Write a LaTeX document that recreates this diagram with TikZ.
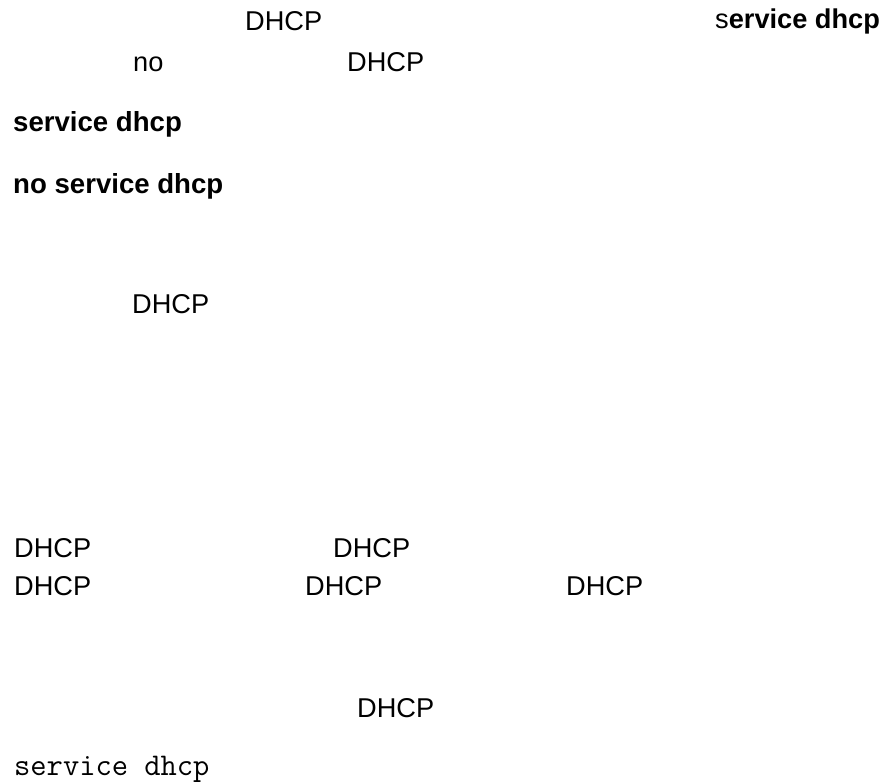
\documentclass[tikz,border=0pt]{standalone}
\usepackage{fontspec}
\setmainfont{Liberation Sans}
\usetikzlibrary{positioning}

\begin{document}
\begin{tikzpicture}[
  x=1pt, y=-1pt,
  txt/.style={inner sep=0pt, anchor=base west, font=\fontsize{27.2}{32}\selectfont},
  btxt/.style={txt, font=\fontsize{27.6}{32}\selectfont\bfseries},
  mtxt/.style={txt, font=\fontsize{31.6}{36}\ttfamily}
]
\useasboundingbox (0,0) rectangle (890,781);
% Intro
\node[txt] (dhcpA) at (245,31) {DHCP};
\node[txt] (svcA) at (715,29) {s\textbf{ervice dhcp}};
\node[txt] (noA) at (133,72) {no};
\node[txt] (dhcpB) at (347,72) {DHCP};
% Commands
\node[btxt] (svcB) at (13,131) {service dhcp};
\node[btxt] (nosvc) at (13,193) {no service dhcp};
% Default
\node[txt] (dhcpC) at (132,313) {DHCP};
% Usage
\node[txt] (dhcpD) at (14,557) {DHCP};
\node[txt] (dhcpE) at (333,557) {DHCP};
\node[txt] (dhcpF) at (14,595) {DHCP};
\node[txt] (dhcpG) at (305,595) {DHCP};
\node[txt] (dhcpH) at (566,595) {DHCP};
% Example
\node[txt] (dhcpI) at (357,717) {DHCP};
\node[mtxt] (svcC) at (14,775) {service dhcp};
\end{tikzpicture}
\end{document}
